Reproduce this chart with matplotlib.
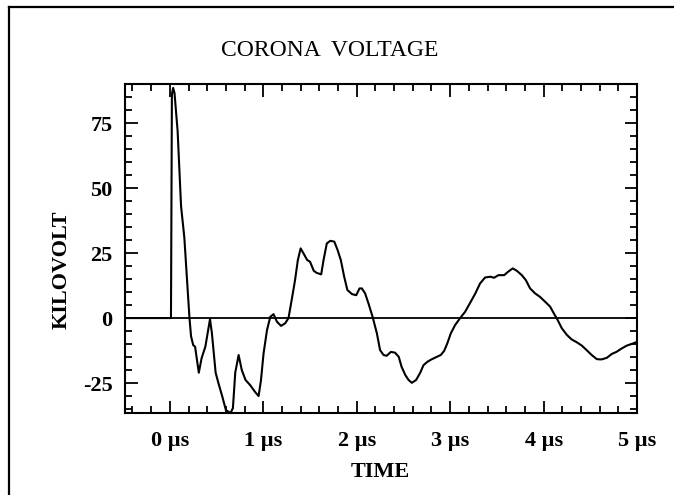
import matplotlib
matplotlib.use("Agg")
import matplotlib.pyplot as plt
from matplotlib.lines import Line2D
from matplotlib.ticker import MultipleLocator, FixedLocator

plt.rcParams['font.family'] = ['Liberation Serif', 'DejaVu Serif']

# ---- data (time in microseconds, voltage in kV) ----
time_us = [-0.48, 0.0, 0.012, 0.022, 0.035, 0.05, 0.083, 0.12, 0.155, 0.184,
           0.21, 0.227, 0.25, 0.27, 0.31, 0.34, 0.38, 0.43, 0.45, 0.49,
           0.52, 0.56, 0.60, 0.65, 0.675, 0.70, 0.736, 0.77, 0.81, 0.86,
           0.91, 0.95, 0.975, 1.003, 1.04, 1.075, 1.11, 1.146, 1.19, 1.235,
           1.27, 1.31, 1.34, 1.37, 1.40, 1.43, 1.47, 1.50, 1.54, 1.57,
           1.62, 1.645, 1.68, 1.717, 1.76, 1.795, 1.83, 1.866, 1.90, 1.95,
           1.995, 2.03, 2.055, 2.09, 2.126, 2.17, 2.216, 2.25, 2.287, 2.32,
           2.366, 2.41, 2.45, 2.48, 2.52, 2.555, 2.59, 2.636, 2.68, 2.715,
           2.757, 2.80, 2.858, 2.90, 2.936, 2.97, 3.007, 3.053, 3.107, 3.16,
           3.21, 3.27, 3.32, 3.374, 3.43, 3.47, 3.517, 3.578, 3.62, 3.67,
           3.713, 3.767, 3.81, 3.856, 3.909, 3.96, 4.016, 4.07, 4.11, 4.15,
           4.195, 4.25, 4.30, 4.355, 4.41, 4.46, 4.515, 4.57, 4.62, 4.676,
           4.73, 4.78, 4.836, 4.89, 4.94, 4.99, 5.0]
voltage_kv = [0, 0, 0, 86, 88.5, 86.5, 72, 43, 31, 14.6,
              0, -7, -10.4, -11, -21, -15.4, -11, -0.4, -5.8, -21,
              -25, -30, -35.4, -36.5, -34.6, -21, -14.2, -20, -23.8, -25.8,
              -28.3, -30, -24, -13.6, -4.6, 0.5, 1.5, -1.4, -3, -2,
              0, 8.2, 14.6, 22.3, 26.8, 24.9, 22.3, 21.7, 18.2, 17.4,
              16.8, 22.3, 28.7, 29.7, 29.4, 26.2, 22.3, 15.9, 10.8, 9.2,
              8.8, 11.4, 11.4, 9.5, 5.6, 0.5, -5.9, -12.3, -14.2, -14.5,
              -13, -13.3, -14.9, -18.7, -21.9, -23.8, -24.9, -23.8, -21, -18.1,
              -16.8, -15.9, -14.9, -14.2, -12.6, -9.7, -5.9, -2.7, 0, 2.4,
              5.6, 9.5, 13.3, 15.6, 15.9, 15.5, 16.5, 16.5, 17.8, 19.1,
              18.2, 16.5, 14.6, 11.4, 9.5, 8.2, 6.3, 4.4, 1.8, -0.7,
              -3.9, -6.5, -8.2, -9.3, -10.6, -12.3, -14.2, -15.8, -15.9, -15.3,
              -13.8, -13, -11.7, -10.6, -10, -9.3, -9.0]

x_ticks = [0, 1, 2, 3, 4, 5]
x_tick_labels = ['0 µs', '1 µs', '2 µs', '3 µs', '4 µs', '5 µs']
y_ticks = [-25, 0, 25, 50, 75]
y_tick_labels = ['-25', '0', '25', '50', '75']

W, H = 674, 495
fig = plt.figure(figsize=(W / 100, H / 100), dpi=100)
ax = fig.add_axes([125 / W, 1 - 413 / H, (637 - 125) / W, (413 - 84) / H])

ax.axhline(0, color='black', lw=1.3)
ax.plot(time_us, voltage_kv, color='black', lw=1.5)

ax.set_xlim(-0.48, 5.0)
ax.set_ylim(-36.5, 90)

ax.xaxis.set_major_locator(FixedLocator(x_ticks))
ax.set_xticklabels(x_tick_labels)
ax.xaxis.set_minor_locator(MultipleLocator(0.2))
ax.yaxis.set_major_locator(FixedLocator(y_ticks))
ax.set_yticklabels(y_tick_labels)
ax.yaxis.set_minor_locator(MultipleLocator(5))

ax.tick_params(which='both', direction='in', top=True, right=True, width=1.3)
ax.tick_params(which='major', length=9)
ax.tick_params(which='minor', length=5)
ax.tick_params(axis='x', which='major', pad=13, labelsize=16)
ax.tick_params(axis='y', which='major', pad=9, labelsize=16)
for lab in ax.get_xticklabels() + ax.get_yticklabels():
    lab.set_fontweight('bold')

for s in ax.spines.values():
    s.set_linewidth(1.5)

ax.set_xlabel('TIME', fontsize=16, fontweight='bold')
ax.xaxis.set_label_coords((380 - 125) / (637 - 125), -(472 - 413) / (413 - 84))
ax.xaxis.label.set_va('center')
ax.set_ylabel('KILOVOLT', fontsize=16, fontweight='bold')
ax.yaxis.set_label_coords(-(125 - 62) / (637 - 125), (413 - 270) / (413 - 84))
ax.yaxis.label.set_va('center')

fig.text(329.5 / W, 1 - 50 / H, 'CORONA  VOLTAGE', ha='center', va='center', fontsize=17)

# outer frame (left and top edges visible in the scan)
fig.add_artist(Line2D([9 / W, 9 / W], [0, 1 - 7 / H], transform=fig.transFigure, color='black', lw=1.6))
fig.add_artist(Line2D([9 / W, 1], [1 - 7 / H, 1 - 7 / H], transform=fig.transFigure, color='black', lw=1.6))

fig.savefig('out.png', dpi=100)
